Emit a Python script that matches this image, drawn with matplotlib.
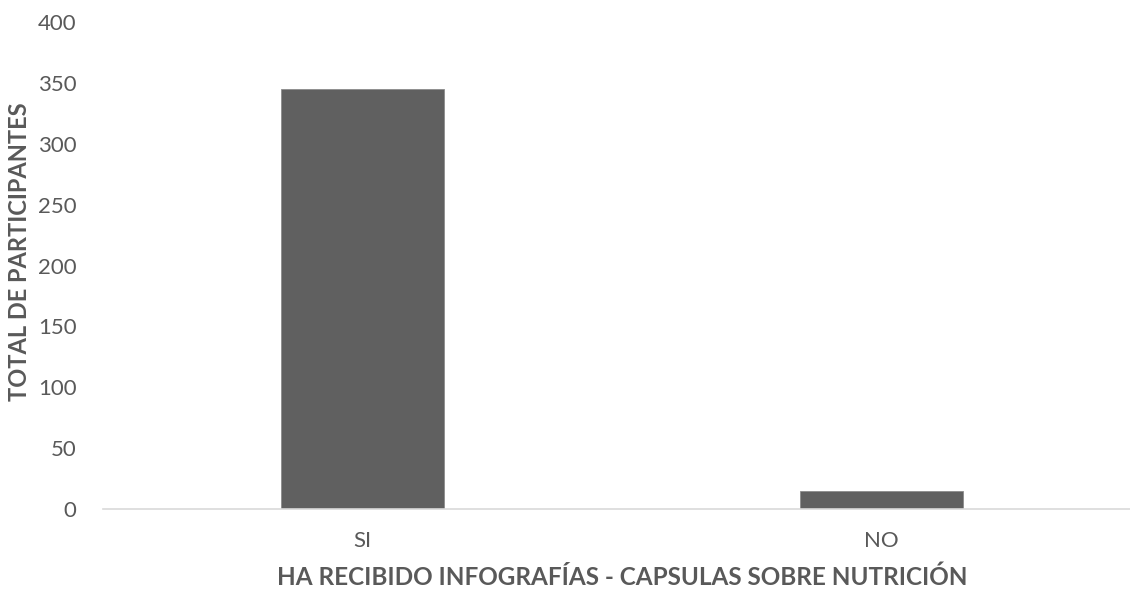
import matplotlib.pyplot as plt

respuestas = ['SI', 'NO']
participantes = [345, 15]
y_ticks = [0, 50, 100, 150, 200, 250, 300, 350, 400]

plt.rcParams['font.family'] = ['Lato', 'DejaVu Sans']
gris = '#595959'

fig = plt.figure(figsize=(11.3, 5.9), dpi=100)
ax = fig.add_axes([103 / 1130, 81 / 590, 1038 / 1130, 487 / 590])

x = range(len(respuestas))
ax.bar(x, participantes, width=0.313, color='#606060', edgecolor='#8c8c8c', linewidth=0.6)

ax.set_xlim(-0.5, 1.5)
ax.set_ylim(0, 400)
ax.set_xticks(list(x))
ax.set_xticklabels(respuestas)
ax.set_yticks(y_ticks)

for lado in ['top', 'right', 'left']:
    ax.spines[lado].set_visible(False)
ax.spines['bottom'].set_color('#d9d9d9')
ax.spines['bottom'].set_linewidth(1.2)

ax.tick_params(axis='both', length=0, labelsize=16, colors=gris)
ax.tick_params(axis='y', pad=19)
ax.tick_params(axis='x', pad=16)

ax.set_xlabel('HA RECIBIDO INFOGRAFÍAS - CAPSULAS SOBRE NUTRICIÓN',
              fontsize=17.5, fontweight='bold', color=gris, labelpad=10)
fig.text(20 / 1130, 338 / 590, 'TOTAL DE PARTICIPANTES', rotation=90,
         ha='center', va='center', fontsize=17, fontweight='bold', color=gris)

fig.savefig('out.png', dpi=100)
